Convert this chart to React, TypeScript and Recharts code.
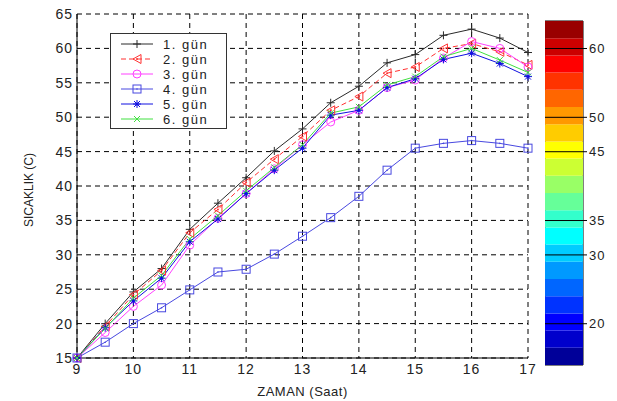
import React from "react";
import {
  Bar,
  BarChart,
  CartesianGrid,
  Legend,
  Line,
  LineChart,
  ReferenceArea,
  ReferenceLine,
  XAxis,
  YAxis,
} from "recharts";

// saat (hour) values on the x axis
const hours = [9, 9.5, 10, 10.5, 11, 11.5, 12, 12.5, 13, 13.5, 14, 14.5, 15, 15.5, 16, 16.5, 17];

const gun1 = [15, 20.0, 24.6, 28.0, 33.7, 37.5, 41.2, 45.1, 48.3, 52.1, 54.5, 57.9, 59.1, 61.9, 62.8, 61.5, 59.4];
const gun2 = [15, 19.6, 24.2, 27.7, 33.2, 36.6, 40.5, 43.9, 47.2, 51.0, 53.0, 56.4, 57.3, 60.0, 60.7, 59.5, 57.6];
const gun3 = [15, 18.7, 22.5, 25.6, 31.4, 35.3, 38.9, 42.5, 46.0, 49.3, 51.0, 54.3, 55.4, 58.6, 61.0, 60.0, 57.3];
const gun4 = [15, 17.3, 20.0, 22.3, 24.9, 27.5, 27.9, 30.1, 32.7, 35.4, 38.5, 42.3, 45.5, 46.2, 46.6, 46.2, 45.5];
const gun5 = [15, 19.4, 23.3, 26.6, 31.9, 35.2, 38.9, 42.3, 45.5, 50.3, 51.0, 54.3, 55.6, 58.4, 59.3, 57.8, 55.9];
const gun6 = [15, 19.3, 23.7, 27.0, 32.3, 35.7, 39.3, 42.7, 46.0, 50.6, 51.5, 54.7, 55.9, 58.8, 60.0, 58.3, 56.5];

const xTicks = [9, 10, 11, 12, 13, 14, 15, 16, 17];
const yTicks = [15, 20, 25, 30, 35, 40, 45, 50, 55, 60, 65];

// colorbar
const cbLevels = [14, 16.5, 19, 21.5, 24, 26.5, 29, 31.5, 34, 36.5, 39, 41.5, 44, 46.5, 49, 51.5, 54, 56.5, 59, 61.5, 64];
const cbTicks = [20, 30, 35, 45, 50, 60];

const font = "'Liberation Sans', Arial, sans-serif";

const series = [
  { key: "g1", name: "1. gün", values: gun1, color: "#2a2a2a", dash: undefined, marker: "plus" },
  { key: "g2", name: "2. gün", values: gun2, color: "#ff3030", dash: "5 3", marker: "triangle" },
  { key: "g3", name: "3. gün", values: gun3, color: "#ff40ff", dash: undefined, marker: "circle" },
  { key: "g4", name: "4. gün", values: gun4, color: "#4848e0", dash: undefined, marker: "square" },
  { key: "g5", name: "5. gün", values: gun5, color: "#1010e0", dash: undefined, marker: "star" },
  { key: "g6", name: "6. gün", values: gun6, color: "#40e040", dash: undefined, marker: "x" },
];

const data = hours.map((h, i) => {
  const row: Record<string, number> = { saat: h };
  series.forEach((s) => (row[s.key] = s.values[i]));
  return row;
});

function jet(t: number) {
  const c = (v: number) => Math.round(255 * Math.max(0, Math.min(1, v)));
  return `rgb(${c(1.5 - Math.abs(4 * t - 3))},${c(1.5 - Math.abs(4 * t - 2))},${c(1.5 - Math.abs(4 * t - 1))})`;
}

const cbRow: Record<string, number | string> = { name: "cb", base: cbLevels[0] };
cbLevels.slice(1).forEach((lv, i) => (cbRow["b" + i] = lv - cbLevels[i]));
const cbData = [cbRow];
const cbMin = cbLevels[0];
const cbMax = cbLevels[cbLevels.length - 1];

function Marker({ type, cx, cy, color }: { type: string; cx: number; cy: number; color: string }) {
  const p = { stroke: color, strokeWidth: 1, fill: "none" };
  switch (type) {
    case "plus":
      return <path d={`M${cx - 4},${cy}h8M${cx},${cy - 4}v8`} {...p} />;
    case "triangle":
      return (
        <g>
          <path d={`M${cx - 4},${cy}L${cx + 4},${cy - 4.5}L${cx + 4},${cy + 4.5}Z`} {...p} />
          <circle cx={cx} cy={cy} r={1} fill={color} />
        </g>
      );
    case "circle":
      return <circle cx={cx} cy={cy} r={4} {...p} />;
    case "square":
      return (
        <g>
          <rect x={cx - 4} y={cy - 4} width={8} height={8} {...p} />
          <circle cx={cx} cy={cy} r={0.8} fill={color} />
        </g>
      );
    case "star":
      return (
        <g>
          <path d={`M${cx - 4},${cy}h8M${cx},${cy - 4}v8M${cx - 3},${cy - 3}l6,6M${cx - 3},${cy + 3}l6,-6`} {...p} />
          <circle cx={cx} cy={cy} r={1.6} fill={color} />
        </g>
      );
    default:
      return <path d={`M${cx - 3},${cy - 3}l6,6M${cx - 3},${cy + 3}l6,-6`} {...p} />;
  }
}

function LegendBox() {
  return (
    <div style={{ width: 115, height: 94, border: "1px solid #333", background: "#fff" }}>
      <svg width={115} height={94}>
        {series.map((s, i) => {
          const y = 10 + i * 15;
          return (
            <g key={s.key}>
              <line x1={10} x2={42} y1={y} y2={y} stroke={s.color} strokeDasharray={s.dash} />
              <Marker type={s.marker} cx={26} cy={y} color={s.color} />
              <text
                x={52}
                y={y + 4.5}
                fontSize={13}
                fontFamily={font}
                letterSpacing={1.5}
                fill="#222"
              >
                {s.name}
              </text>
            </g>
          );
        })}
      </svg>
    </div>
  );
}

export default function App() {
  const tickStyle = { fill: "#222", fontSize: 14, fontFamily: font, letterSpacing: 1 };
  return (
    <div style={{ position: "absolute", left: 0, top: 0, width: 617, height: 401, background: "#fff" }}>
      <div style={{ position: "absolute", left: 0, top: 0 }}>
        <LineChart width={617} height={401} data={data} margin={{ top: 14, right: 89, left: 37, bottom: 13 }}>
          <CartesianGrid stroke="#000" strokeDasharray="5 4" />
          <XAxis
            dataKey="saat"
            type="number"
            domain={[9, 17]}
            ticks={xTicks}
            height={30}
            tick={tickStyle}
            tickLine={false}
            tickSize={6}
            tickMargin={0}
            axisLine={{ stroke: "#000" }}
            label={{
              content: (props: any) => {
                const vb = props.viewBox;
                return (
                  <text
                    x={vb.x + vb.width / 2}
                    y={vb.y + 38}
                    textAnchor="middle"
                    fontSize={13}
                    fontFamily={font}
                    letterSpacing={0.5}
                    fill="#222"
                  >
                    ZAMAN (Saat)
                  </text>
                );
              },
            }}
          />
          <YAxis
            type="number"
            domain={[15, 65]}
            ticks={yTicks}
            width={40}
            tick={tickStyle}
            tickLine={false}
            tickSize={4}
            tickMargin={0}
            axisLine={{ stroke: "#000" }}
            label={{
              content: (props: any) => {
                const vb = props.viewBox;
                const x = vb.x - 8;
                const y = vb.y + vb.height / 2 + 4;
                return (
                  <text
                    x={x}
                    y={y}
                    transform={`rotate(-90 ${x} ${y})`}
                    textAnchor="middle"
                    dominantBaseline="central"
                    fontSize={12}
                    fontFamily={font}
                    fill="#222"
                  >
                    SICAKLIK (C)
                  </text>
                );
              },
            }}
          />
          <Legend
            layout="vertical"
            align="center"
            verticalAlign="middle"
            wrapperStyle={{ left: 110, top: 33, width: 117 }}
            content={() => <LegendBox />}
          />
          {series.map((s) => (
            <Line
              key={s.key}
              dataKey={s.key}
              name={s.name}
              type="linear"
              stroke={s.color}
              strokeWidth={1}
              strokeDasharray={s.dash}
              isAnimationActive={false}
              dot={(props: any) => (
                <Marker key={`${s.key}-${props.index}`} type={s.marker} cx={props.cx} cy={props.cy} color={s.color} />
              )}
              activeDot={false}
            />
          ))}
        </LineChart>
      </div>
      <div style={{ position: "absolute", left: 545, top: 0 }}>
        <BarChart
          width={72}
          height={401}
          data={cbData}
          margin={{ top: 21, right: 0, left: 0, bottom: 36 }}
          barCategoryGap={0}
          barGap={0}
        >
          <XAxis dataKey="name" hide />
          <YAxis
            orientation="right"
            type="number"
            domain={[cbMin, cbMax]}
            allowDataOverflow
            ticks={cbTicks}
            width={34}
            tick={{ fill: "#222", fontSize: 13, fontFamily: font, letterSpacing: 1 }}
            tickSize={4}
            tickMargin={2}
            tickLine={{ stroke: "#000" }}
            axisLine={false}
          />
          <Bar dataKey="base" stackId="c" fill="none" isAnimationActive={false} />
          {cbLevels.slice(1).map((lv, i) => (
            <Bar
              key={i}
              dataKey={"b" + i}
              stackId="c"
              fill={jet((i + 0.5) / (cbLevels.length - 1))}
              isAnimationActive={false}
            />
          ))}
          {cbTicks.map((t) => (
            <ReferenceLine key={t} y={t} stroke="#000" strokeWidth={1} />
          ))}
          <ReferenceArea y1={cbMin} y2={cbMax} fill="none" stroke="#000" strokeWidth={1} />
        </BarChart>
      </div>
    </div>
  );
}
